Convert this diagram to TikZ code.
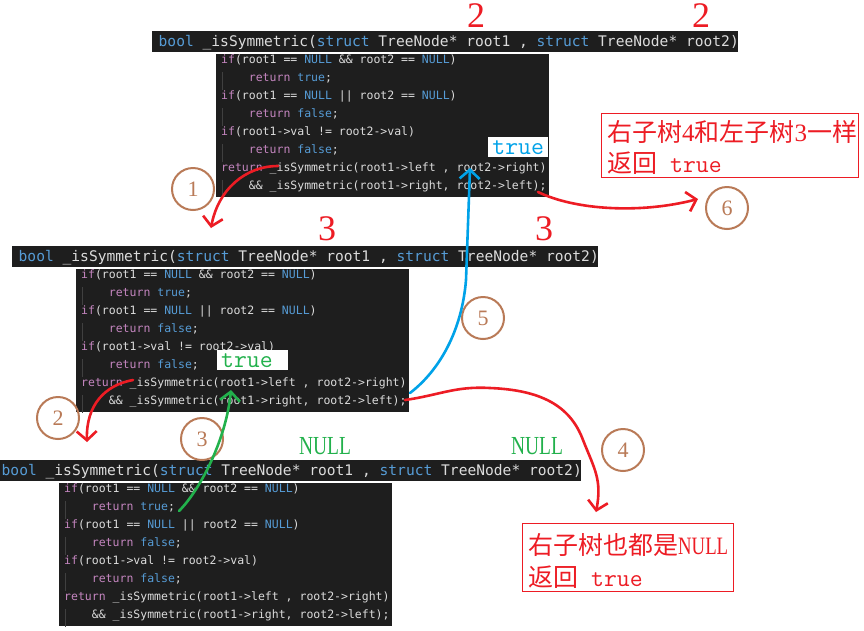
\documentclass[tikz,border=0pt]{standalone}
\usepackage{fontspec}
\usepackage{graphicx}
\usetikzlibrary{arrows.meta}
\newfontfamily\codefont{DejaVu Sans Mono}
\newfontfamily\cjkfont{Noto Sans CJK SC}
\newfontfamily\serifnum{Liberation Serif}
\definecolor{codebg}{HTML}{1E1E1E}
\definecolor{codefg}{HTML}{DCDCDC}
\definecolor{kwblue}{HTML}{569CD6}
\definecolor{kwpurple}{HTML}{C586C0}
\definecolor{guidecol}{HTML}{404040}
\definecolor{pred}{HTML}{ED1C24}
\definecolor{pgreen}{HTML}{22B14C}
\definecolor{pblue}{HTML}{00A2E8}
\definecolor{pbrown}{HTML}{B97A57}
\newcommand\KB[1]{\textcolor{kwblue}{#1}}
\newcommand\KP[1]{\textcolor{kwpurple}{#1}}
\newcommand\IND{\hspace*{27.7pt}}
\newcommand\LnA{\KP{if}(root1 == \KB{NULL} \&\& root2 == \KB{NULL})}
\newcommand\LnB{\IND\KP{return} \KB{true};}
\newcommand\LnC{\KP{if}(root1 == \KB{NULL} || root2 == \KB{NULL})}
\newcommand\LnD{\IND\KP{return} \KB{false};}
\newcommand\LnE{\KP{if}(root1->val != root2->val)}
\newcommand\LnF{\IND\KP{return} \KB{false};}
\newcommand\LnG{\KP{return} \_isSymmetric(root1->left , root2->right)}
\newcommand\LnH{\IND\&\& \_isSymmetric(root1->right, root2->left);}
\newcommand\Hdr{\KB{bool} \_isSymmetric(\KB{struct} TreeNode* root1 , \KB{struct} TreeNode* root2)}
\newcommand\SNULL{{\serifnum\scalebox{0.75}[1]{NULL}}}
\tikzset{
  codehdr/.style={anchor=base west, inner sep=0pt, text=codefg, font=\codefont\fontsize{14.6}{17}\selectfont},
  codeline/.style={anchor=base west, inner sep=0pt, text=codefg, font=\codefont\fontsize{11.5}{14}\selectfont},
  guideline/.style={draw=guidecol, line width=1pt},
  bignum/.style={inner sep=0pt, text=pred, font=\serifnum\fontsize{36}{40}\selectfont},
  nulllab/.style={inner sep=0pt, text=pgreen, font=\serifnum\fontsize{26}{30}\selectfont},
  truelab/.style={anchor=north west, fill=white, inner ysep=0pt, inner xsep=4pt, minimum height=20pt, font=\ttfamily\fontsize{25}{28}\selectfont},
  stepcirc/.style={circle, draw=pbrown, line width=2pt, minimum size=42pt, inner sep=0pt, text=pbrown, font=\serifnum\fontsize{22}{24}\selectfont},
  notebox/.style={draw=pred, line width=1.3pt, anchor=north west, inner sep=0pt},
  notetext/.style={anchor=base west, inner sep=0pt, text=pred, font=\cjkfont\fontsize{25}{30}\selectfont},
  hand/.style={line width=2.6pt, line cap=round, line join=round, -{Straight Barb[length=9pt,width=20pt]}},
}
\begin{document}
\begin{tikzpicture}[x=1pt,y=-1pt]
\useasboundingbox[fill=white] (0,0) rectangle (864,630);
% code blocks
\foreach \bx/\by/\bn in {152/31/A,12/246/B,-5/460/C}{
  \fill[codebg] (\bx,\by) rectangle ++(586,21);
  \fill[codebg] (\bx+64,\by+23) rectangle ++(333,143);
  \foreach \k in {2,4,6,8} \draw[guideline] (\bx+70,\by+23+18*\k-18) -- ++(0,18);
  \node[codehdr] (\bn-h) at (\bx+6.5,\by+15.5) {\Hdr};
  \foreach \L [count=\i] in {\LnA,\LnB,\LnC,\LnD,\LnE,\LnF,\LnG,\LnH}
    \node[codeline] (\bn-\i) at (\bx+69,\by+32.5+18*\i-18) {\L};
}
% big red numbers and NULL labels
\node[bignum] (nA1) at (476,16) {2};
\node[bignum] (nA2) at (701,16) {2};
\node[bignum] (nB1) at (327,229) {3};
\node[bignum] (nB2) at (544,229) {3};
\node[nulllab] (nC1) at (325,446) {\SNULL};
\node[nulllab] (nC2) at (537,446) {\SNULL};
% true labels
\node[truelab, text=pblue] (tA) at (488,137) {\makebox[52pt][c]{true}};
\node[truelab, text=pgreen] (tB) at (217,350) {\makebox[63pt][l]{true}};
% note boxes
\node[notebox, minimum width=257pt, minimum height=64pt] (box1) at (601,113) {};
\node[notetext] (box1a) at (607,141) {右子树{\serifnum 4}和左子树{\serifnum 3}一样};
\node[notetext] (box1b) at (607,172) {返回\hspace{13pt}{\ttfamily true}};
\node[notebox, minimum width=211pt, minimum height=68pt] (box2) at (522,523) {};
\node[notetext] (box2a) at (528,554) {右子树也都是\SNULL};
\node[notetext] (box2b) at (528,586) {返回\hspace{13pt}{\ttfamily true}};
% step circles
\node[stepcirc] (c1) at (193,189) {1};
\node[stepcirc] (c2) at (58,418) {2};
\node[stepcirc] (c3) at (202,439) {3};
\node[stepcirc] (c4) at (623,450) {4};
\node[stepcirc] (c5) at (483,318) {5};
\node[stepcirc] (c6) at (727,208) {6};
% arrow end points
\coordinate (s1) at (278,166); \coordinate (e1) at (211,228);
\coordinate (s2) at (133,380); \coordinate (e2) at (87,442);
\coordinate (s3) at (179,511); \coordinate (e3) at (231,390);
\coordinate (s4) at (405,400); \coordinate (e4) at (596,512);
\coordinate (s5) at (410,393); \coordinate (e5) at (470,168);
\coordinate (s6) at (538,192); \coordinate (e6) at (698,199);
% arrows
\draw[hand, pred] (s1) .. controls (245,166) and (218,190) .. (e1);
\draw[hand, pred] (s2) .. controls (105,385) and (86,405) .. (e2);
\draw[hand, pgreen] (s3) .. controls (200,490) and (226,440) .. (e3);
\draw[hand, pred] (s4) .. controls (440,395) and (455,386) .. (490,388)
  .. controls (540,390) and (570,405) .. (583,440)
  .. controls (595,470) and (602,480) .. (e4);
\draw[hand, pblue] (s5) .. controls (440,370) and (462,330) .. (466,280) -- (e5);
\draw[hand, pred] (s6) .. controls (575,210) and (640,214) .. (e6);
\end{tikzpicture}
\end{document}
